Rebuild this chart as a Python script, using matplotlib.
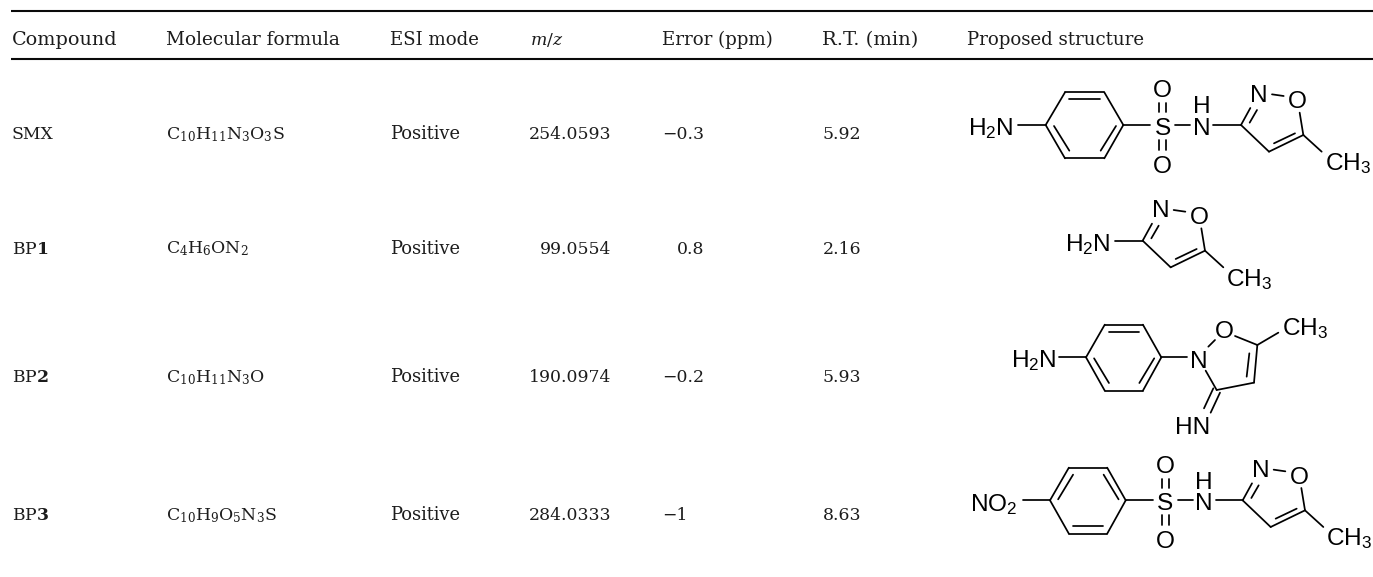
import matplotlib
matplotlib.use("Agg")
import matplotlib.pyplot as plt

# table content
HEADERS = ["Compound", "Molecular formula", "ESI mode", "$m$/$z$", "Error (ppm)", "R.T. (min)", "Proposed structure"]
COMPOUNDS = ["SMX", r"BP$\mathbf{1}$", r"BP$\mathbf{2}$", r"BP$\mathbf{3}$"]
FORMULAS = [r"$\mathrm{C_{10}H_{11}N_3O_3S}$", r"$\mathrm{C_4H_6ON_2}$",
            r"$\mathrm{C_{10}H_{11}N_3O}$", r"$\mathrm{C_{10}H_9O_5N_3S}$"]
MODES = ["Positive", "Positive", "Positive", "Positive"]
MZ = ["254.0593", "99.0554", "190.0974", "284.0333"]
ERRORS = ["\u22120.3", "0.8", "\u22120.2", "\u22121"]
RT = ["5.92", "2.16", "5.93", "8.63"]

# layout, in image pixels
HEADER_X = [11.5, 166, 390, 529.5, 662, 822.5, 967]
HEADER_FS = [13.8, 13.3, 13.1, 12.4, 13.1, 14.0, 13.1]  # the original font is wider, fit per column
HEADER_Y = 45
ROW_Y = [139, 253.5, 382, 520.5]
RULE_Y = [11, 59]
TEXT_COLOR = "#1c1c1c"
FONT = "DejaVu Serif"
FS = 12.4
LABEL_FS = 17.6
BOND_LW = 1.25

plt.rcParams["mathtext.fontset"] = "custom"
plt.rcParams["mathtext.rm"] = "Liberation Sans"
plt.rcParams["mathtext.it"] = "Liberation Sans:italic"
plt.rcParams["mathtext.bf"] = "Liberation Sans:bold"

fig = plt.figure(figsize=(13.73, 5.77), dpi=100)
ax = fig.add_axes([0, 0, 1, 1])
ax.set_xlim(0, 1373)
ax.set_ylim(577, 0)
ax.axis("off")


def cell(x, y, s, ha="left", fs=FS):
    ax.text(x, y, s, ha=ha, va="baseline", fontsize=fs, family=FONT,
            color=TEXT_COLOR, math_fontfamily="dejavuserif")


# rules and text cells
for y in RULE_Y:
    ax.plot([11, 1373], [y, y], color="#0a0a0a", lw=1.5, solid_capstyle="butt")

for x, s, fs in zip(HEADER_X, HEADERS, HEADER_FS):
    cell(x, HEADER_Y, s, fs=fs)

for i, y in enumerate(ROW_Y):
    cell(HEADER_X[0], y, COMPOUNDS[i])
    cell(HEADER_X[1], y, FORMULAS[i])
    cell(HEADER_X[2], y, MODES[i], fs=12.9)
    cell(611.5, y, MZ[i], ha="right")
    if "." in ERRORS[i]:
        cell(704.5, y, ERRORS[i], ha="right")
    else:
        cell(662, y, ERRORS[i])
    cell(HEADER_X[5], y, RT[i])


# --------- structures, drawn in units of 1/3 px -----------
def bonds(ox, oy, segs, dx=0, dy=0):
    for (x0, y0, x1, y1) in segs:
        ax.plot([ox + (x0 + dx) / 3, ox + (x1 + dx) / 3],
                [oy + (y0 + dy) / 3, oy + (y1 + dy) / 3],
                color="black", lw=BOND_LW, solid_capstyle="round")


def label(ox, oy, x, y, s, ha="center"):
    ax.text(ox + x / 3, oy + y / 3, s, ha=ha, va="baseline", fontsize=LABEL_FS,
            family="Liberation Sans", color="black", math_fontfamily="custom")


def benzene(ox, oy, lx, ly, w=1.0, flip=False):
    sgn = -1 if flip else 1
    pts = [(0, 0), (58, 100), (176, 100), (233, 0), (176, -98), (58, -98)]
    pts = [(p[0] * w, p[1]) for p in pts]
    segs = [(pts[k][0], pts[k][1], pts[(k + 1) % 6][0], pts[(k + 1) % 6][1]) for k in range(6)]
    inner = [(71, -77, 163, -77), (165, 77, 211, 3), (25, 3, 71, 77)]
    segs += [(a * w, b * sgn, c * w, d * sgn) for a, b, c, d in inner]
    bonds(ox, oy, segs, lx, ly)


def isoxazole(ox, oy, cx, cy):
    # 5-methylisoxazole, drawn from the C3 atom
    segs = [(0, 0, 28, -51), (26, -7, 48, -45), (93, -92, 128, -87),
            (176, -37, 187, 30), (187, 30, 84, 80), (99, 55, 162, 25),
            (84, 80, 0, 0), (187, 30, 242, 80)]
    bonds(ox, oy, segs, cx, cy)
    label(ox, oy, cx + 54, cy - 70, "N")
    label(ox, oy, cx + 169, cy - 50, "O")
    label(ox, oy, cx + 320, cy + 135, r"$\mathrm{CH_3}$")


def sulfonamide(ox, oy, sx, y, nx, cx):
    # S(=O)(=O)-NH between the benzene ring and the isoxazole
    bonds(ox, oy, [(sx - 38, y, sx - 118, y), (sx + 37, y, sx + 82, y), (nx + 35, y, cx, y),
                   (sx - 11, y - 65, sx - 11, y - 38), (sx + 11, y - 65, sx + 11, y - 38),
                   (sx - 11, y + 45, sx - 11, y + 75), (sx + 11, y + 45, sx + 11, y + 75)])
    label(ox, oy, sx, y + 30, "S")
    label(ox, oy, sx, y - 83, "O")
    label(ox, oy, sx, y + 143, "O")
    label(ox, oy, nx, y + 30, "N")
    label(ox, oy, nx, y - 35, "H")


# SMX
OX, OY = 950, 90
label(OX, OY, 122, 135, r"$\mathrm{H_2N}$")
bonds(OX, OY, [(205, 105, 287, 105)])
benzene(OX, OY, 287, 105)
sulfonamide(OX, OY, 638, 105, 755, 873)
isoxazole(OX, OY, 873, 105)

# BP1
label(OX, OY, 412, 482, r"$\mathrm{H_2N}$")
bonds(OX, OY, [(495, 452, 578, 452)])
isoxazole(OX, OY, 578, 452)

# BP2
OY2 = 300
label(OX, OY2, 250, 200, r"$\mathrm{H_2N}$")
bonds(OX, OY2, [(328, 172, 408, 172)])
benzene(OX, OY2, 408, 172, w=0.97)
bonds(OX, OY2, [(633, 172, 712, 172), (775, 140, 795, 120), (855, 108, 922, 135),
                (922, 135, 985, 98), (922, 135, 912, 248), (898, 160, 890, 230),
                (912, 248, 800, 270), (800, 270, 767, 212),
                (790, 265, 762, 325), (810, 278, 782, 338)])
label(OX, OY2, 745, 204, "N")
label(OX, OY2, 822, 114, "O")
label(OX, OY2, 1066, 106, r"$\mathrm{CH_3}$")
label(OX, OY2, 728, 402, "HN")

# BP3
label(OX, OY2, 130, 632, r"$\mathrm{NO_2}$")
bonds(OX, OY2, [(218, 601, 300, 601)])
benzene(OX, OY2, 300, 601, w=0.975, flip=True)
sulfonamide(OX, OY2, 646, 601, 762, 878)
isoxazole(OX, OY2, 878, 601)

fig.savefig("out.png", dpi=100)
